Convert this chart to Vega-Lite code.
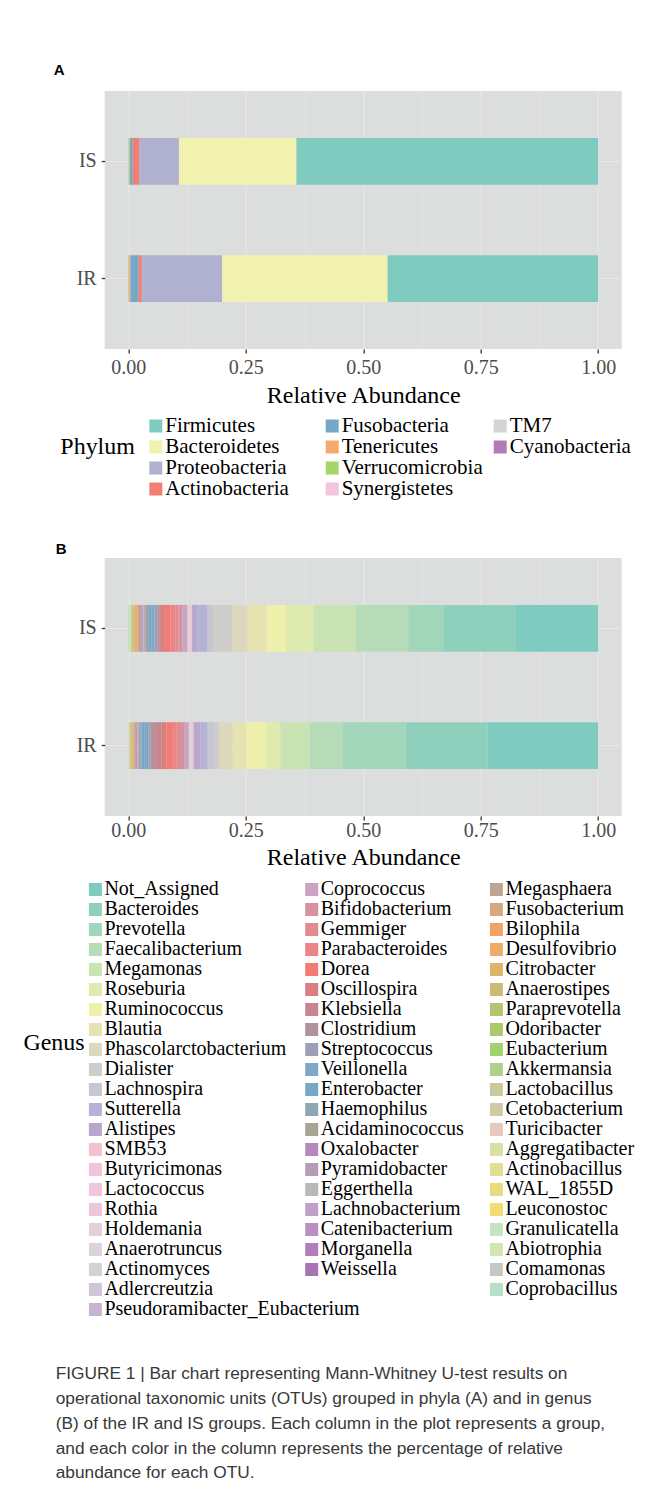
{
  "$schema": "https://vega.github.io/schema/vega-lite/v6.json",
  "background": "white",
  "padding": {"left": 22.7, "top": 62, "right": 5, "bottom": 20},
  "bounds": "flush",
  "spacing": 209,
  "title": {
    "text": [
      "FIGURE 1 | Bar chart representing Mann-Whitney U-test results on",
      "operational taxonomic units (OTUs) grouped in phyla (A) and in genus",
      "(B) of the IR and IS groups. Each column in the plot represents a group,",
      "and each color in the column represents the percentage of relative",
      "abundance for each OTU."
    ],
    "orient": "bottom", "anchor": "start", "frame": "group", "dx": -49, "offset": 46,
    "font": "Liberation Sans", "fontSize": 17.3, "fontWeight": "normal",
    "color": "#383838", "lineHeight": 24.75, "baseline": "top", "align": "left"
  },
  "datasets": {
    "phy": [
      {"group": "IS", "phylum": "Cyanobacteria", "value": 0.0005},
      {"group": "IS", "phylum": "TM7", "value": 0.0005},
      {"group": "IS", "phylum": "Synergistetes", "value": 0.0005},
      {"group": "IS", "phylum": "Verrucomicrobia", "value": 0.002},
      {"group": "IS", "phylum": "Tenericutes", "value": 0.0005},
      {"group": "IS", "phylum": "Fusobacteria", "value": 0.0056},
      {"group": "IS", "phylum": "Actinobacteria", "value": 0.0134},
      {"group": "IS", "phylum": "Proteobacteria", "value": 0.085},
      {"group": "IS", "phylum": "Bacteroidetes", "value": 0.25},
      {"group": "IS", "phylum": "Firmicutes", "value": 0.642},
      {"group": "IR", "phylum": "Cyanobacteria", "value": 0.0003},
      {"group": "IR", "phylum": "TM7", "value": 0.0003},
      {"group": "IR", "phylum": "Synergistetes", "value": 0.0003},
      {"group": "IR", "phylum": "Verrucomicrobia", "value": 0.0011},
      {"group": "IR", "phylum": "Tenericutes", "value": 0.003},
      {"group": "IR", "phylum": "Fusobacteria", "value": 0.0165},
      {"group": "IR", "phylum": "Actinobacteria", "value": 0.0075},
      {"group": "IR", "phylum": "Proteobacteria", "value": 0.171},
      {"group": "IR", "phylum": "Bacteroidetes", "value": 0.352},
      {"group": "IR", "phylum": "Firmicutes", "value": 0.448}
    ],
    "gen": [
      {"group": "IS", "genus": "Coprobacillus", "value": 0.0015},
      {"group": "IS", "genus": "Comamonas", "value": 0.0005},
      {"group": "IS", "genus": "Abiotrophia", "value": 0.0005},
      {"group": "IS", "genus": "Granulicatella", "value": 0.0005},
      {"group": "IS", "genus": "Leuconostoc", "value": 0.0005},
      {"group": "IS", "genus": "WAL_1855D", "value": 0.0005},
      {"group": "IS", "genus": "Actinobacillus", "value": 0.0005},
      {"group": "IS", "genus": "Aggregatibacter", "value": 0.0005},
      {"group": "IS", "genus": "Turicibacter", "value": 0.0005},
      {"group": "IS", "genus": "Cetobacterium", "value": 0.0005},
      {"group": "IS", "genus": "Lactobacillus", "value": 0.001},
      {"group": "IS", "genus": "Akkermansia", "value": 0.001},
      {"group": "IS", "genus": "Eubacterium", "value": 0.001},
      {"group": "IS", "genus": "Odoribacter", "value": 0.001},
      {"group": "IS", "genus": "Paraprevotella", "value": 0.001},
      {"group": "IS", "genus": "Anaerostipes", "value": 0.001},
      {"group": "IS", "genus": "Citrobacter", "value": 0.002},
      {"group": "IS", "genus": "Desulfovibrio", "value": 0.003},
      {"group": "IS", "genus": "Bilophila", "value": 0.003},
      {"group": "IS", "genus": "Fusobacterium", "value": 0.003},
      {"group": "IS", "genus": "Megasphaera", "value": 0.004},
      {"group": "IS", "genus": "Weissella", "value": 0.001},
      {"group": "IS", "genus": "Morganella", "value": 0.001},
      {"group": "IS", "genus": "Catenibacterium", "value": 0.002},
      {"group": "IS", "genus": "Lachnobacterium", "value": 0.001},
      {"group": "IS", "genus": "Eggerthella", "value": 0.002},
      {"group": "IS", "genus": "Pyramidobacter", "value": 0.001},
      {"group": "IS", "genus": "Oxalobacter", "value": 0.002},
      {"group": "IS", "genus": "Acidaminococcus", "value": 0.003},
      {"group": "IS", "genus": "Haemophilus", "value": 0.004},
      {"group": "IS", "genus": "Enterobacter", "value": 0.006},
      {"group": "IS", "genus": "Veillonella", "value": 0.006},
      {"group": "IS", "genus": "Streptococcus", "value": 0.006},
      {"group": "IS", "genus": "Clostridium", "value": 0.004},
      {"group": "IS", "genus": "Klebsiella", "value": 0.004},
      {"group": "IS", "genus": "Oscillospira", "value": 0.008},
      {"group": "IS", "genus": "Dorea", "value": 0.012},
      {"group": "IS", "genus": "Parabacteroides", "value": 0.01},
      {"group": "IS", "genus": "Gemmiger", "value": 0.007},
      {"group": "IS", "genus": "Bifidobacterium", "value": 0.008},
      {"group": "IS", "genus": "Coprococcus", "value": 0.01},
      {"group": "IS", "genus": "Pseudoramibacter_Eubacterium", "value": 0.001},
      {"group": "IS", "genus": "Adlercreutzia", "value": 0.001},
      {"group": "IS", "genus": "Actinomyces", "value": 0.001},
      {"group": "IS", "genus": "Anaerotruncus", "value": 0.001},
      {"group": "IS", "genus": "Holdemania", "value": 0.001},
      {"group": "IS", "genus": "Rothia", "value": 0.001},
      {"group": "IS", "genus": "Lactococcus", "value": 0.001},
      {"group": "IS", "genus": "Butyricimonas", "value": 0.002},
      {"group": "IS", "genus": "SMB53", "value": 0.002},
      {"group": "IS", "genus": "Alistipes", "value": 0.012},
      {"group": "IS", "genus": "Sutterella", "value": 0.021},
      {"group": "IS", "genus": "Lachnospira", "value": 0.013},
      {"group": "IS", "genus": "Dialister", "value": 0.04},
      {"group": "IS", "genus": "Phascolarctobacterium", "value": 0.032},
      {"group": "IS", "genus": "Blautia", "value": 0.041},
      {"group": "IS", "genus": "Ruminococcus", "value": 0.041},
      {"group": "IS", "genus": "Roseburia", "value": 0.058},
      {"group": "IS", "genus": "Megamonas", "value": 0.09},
      {"group": "IS", "genus": "Faecalibacterium", "value": 0.112},
      {"group": "IS", "genus": "Prevotella", "value": 0.076},
      {"group": "IS", "genus": "Bacteroides", "value": 0.153},
      {"group": "IS", "genus": "Not_Assigned", "value": 0.175},
      {"group": "IR", "genus": "Coprobacillus", "value": 0.0003},
      {"group": "IR", "genus": "Comamonas", "value": 0.0003},
      {"group": "IR", "genus": "Abiotrophia", "value": 0.0003},
      {"group": "IR", "genus": "Granulicatella", "value": 0.0003},
      {"group": "IR", "genus": "Leuconostoc", "value": 0.0003},
      {"group": "IR", "genus": "WAL_1855D", "value": 0.0003},
      {"group": "IR", "genus": "Actinobacillus", "value": 0.0003},
      {"group": "IR", "genus": "Aggregatibacter", "value": 0.0003},
      {"group": "IR", "genus": "Turicibacter", "value": 0.0003},
      {"group": "IR", "genus": "Cetobacterium", "value": 0.0003},
      {"group": "IR", "genus": "Lactobacillus", "value": 0.0003},
      {"group": "IR", "genus": "Akkermansia", "value": 0.0005},
      {"group": "IR", "genus": "Eubacterium", "value": 0.0005},
      {"group": "IR", "genus": "Odoribacter", "value": 0.0005},
      {"group": "IR", "genus": "Paraprevotella", "value": 0.0005},
      {"group": "IR", "genus": "Anaerostipes", "value": 0.001},
      {"group": "IR", "genus": "Citrobacter", "value": 0.001},
      {"group": "IR", "genus": "Desulfovibrio", "value": 0.002},
      {"group": "IR", "genus": "Bilophila", "value": 0.002},
      {"group": "IR", "genus": "Fusobacterium", "value": 0.002},
      {"group": "IR", "genus": "Megasphaera", "value": 0.003},
      {"group": "IR", "genus": "Weissella", "value": 0.001},
      {"group": "IR", "genus": "Morganella", "value": 0.001},
      {"group": "IR", "genus": "Catenibacterium", "value": 0.001},
      {"group": "IR", "genus": "Lachnobacterium", "value": 0.001},
      {"group": "IR", "genus": "Eggerthella", "value": 0.001},
      {"group": "IR", "genus": "Pyramidobacter", "value": 0.001},
      {"group": "IR", "genus": "Oxalobacter", "value": 0.001},
      {"group": "IR", "genus": "Acidaminococcus", "value": 0.002},
      {"group": "IR", "genus": "Haemophilus", "value": 0.003},
      {"group": "IR", "genus": "Enterobacter", "value": 0.007},
      {"group": "IR", "genus": "Veillonella", "value": 0.008},
      {"group": "IR", "genus": "Streptococcus", "value": 0.004},
      {"group": "IR", "genus": "Clostridium", "value": 0.01},
      {"group": "IR", "genus": "Klebsiella", "value": 0.014},
      {"group": "IR", "genus": "Oscillospira", "value": 0.01},
      {"group": "IR", "genus": "Dorea", "value": 0.012},
      {"group": "IR", "genus": "Parabacteroides", "value": 0.009},
      {"group": "IR", "genus": "Gemmiger", "value": 0.008},
      {"group": "IR", "genus": "Bifidobacterium", "value": 0.01},
      {"group": "IR", "genus": "Coprococcus", "value": 0.008},
      {"group": "IR", "genus": "Pseudoramibacter_Eubacterium", "value": 0.001},
      {"group": "IR", "genus": "Adlercreutzia", "value": 0.001},
      {"group": "IR", "genus": "Actinomyces", "value": 0.001},
      {"group": "IR", "genus": "Anaerotruncus", "value": 0.001},
      {"group": "IR", "genus": "Holdemania", "value": 0.001},
      {"group": "IR", "genus": "Rothia", "value": 0.001},
      {"group": "IR", "genus": "Lactococcus", "value": 0.001},
      {"group": "IR", "genus": "Butyricimonas", "value": 0.002},
      {"group": "IR", "genus": "SMB53", "value": 0.002},
      {"group": "IR", "genus": "Alistipes", "value": 0.014},
      {"group": "IR", "genus": "Sutterella", "value": 0.016},
      {"group": "IR", "genus": "Lachnospira", "value": 0.015},
      {"group": "IR", "genus": "Dialister", "value": 0.01},
      {"group": "IR", "genus": "Phascolarctobacterium", "value": 0.028},
      {"group": "IR", "genus": "Blautia", "value": 0.029},
      {"group": "IR", "genus": "Ruminococcus", "value": 0.043},
      {"group": "IR", "genus": "Roseburia", "value": 0.03},
      {"group": "IR", "genus": "Megamonas", "value": 0.062},
      {"group": "IR", "genus": "Faecalibacterium", "value": 0.071},
      {"group": "IR", "genus": "Prevotella", "value": 0.133},
      {"group": "IR", "genus": "Bacteroides", "value": 0.175},
      {"group": "IR", "genus": "Not_Assigned", "value": 0.235}
    ]
  },
  "vconcat": [
    {
      "width": 517,
      "height": 258,
      "title": {"text": "A", "anchor": "start", "frame": "group", "dx": -51, "offset": 1.5, "baseline": "alphabetic", "font": "Liberation Sans", "fontSize": 15, "fontWeight": "bold", "color": "#000000"},
      "data": {"name": "phy"},
      "transform": [{"stack": "value", "groupby": ["group"], "offset": "normalize", "as": ["x0", "x1"]}],
      "encoding": {
        "y": {
          "field": "group", "type": "nominal",
          "scale": {"domain": ["IS", "IR"], "paddingInner": 0.6, "paddingOuter": 0.4},
          "axis": {"title": null, "domain": false, "tickSize": 3.5, "tickColor": "#333333", "tickWidth": 1.3, "labelFont": "Liberation Serif", "labelFontSize": 20, "labelColor": "#4d4d4d", "labelPadding": 5, "grid": true, "gridColor": "#e8e8e8", "gridWidth": 1.1}
        },
        "x": {
          "field": "x0", "type": "quantitative",
          "scale": {"domain": [-0.05, 1.05], "nice": false, "zero": false},
          "axis": {
            "values": [0, 0.125, 0.25, 0.375, 0.5, 0.625, 0.75, 0.875, 1],
            "labelExpr": "(datum.value * 4) % 1 === 0 ? format(datum.value, '.2f') : ''",
            "tickOpacity": {"condition": {"test": "(datum.value * 4) % 1 === 0", "value": 1}, "value": 0},
            "gridWidth": {"condition": {"test": "(datum.value * 4) % 1 === 0", "value": 1.1}, "value": 0.55},
            "gridColor": "#e8e8e8", "grid": true, "domain": false,
            "tickSize": 4, "tickColor": "#333333", "tickWidth": 1.3,
            "labelFont": "Liberation Serif", "labelFontSize": 20, "labelColor": "#4d4d4d", "labelPadding": 4,
            "labelOverlap": false, "labelFlush": false,
            "title": "Relative Abundance", "titleFont": "Liberation Serif", "titleFontSize": 24, "titleFontWeight": "normal", "titleColor": "#000000", "titlePadding": 6
          }
        },
        "x2": {"field": "x1"}
      },
      "layer": [
        {
          "transform": [{"filter": {"field": "phylum", "oneOf": ["Firmicutes", "Bacteroidetes", "Proteobacteria", "Actinobacteria"]}}],
          "mark": {"type": "bar"},
          "encoding": {
            "color": {
              "field": "phylum", "type": "nominal",
              "scale": {"domain": ["Firmicutes", "Bacteroidetes", "Proteobacteria", "Actinobacteria"], "range": ["#80cbc0", "#f2f2b0", "#b0b0d0", "#f27f72"]},
              "legend": {"title": ["Phylum", ""], "orient": "none", "legendX": -44.4, "legendY": 324.5, "titleOrient": "left", "titleAnchor": "middle", "titleBaseline": "middle", "titleAlign": "left", "titleLineHeight": 21, "titlePadding": 10, "rowPadding": -1.5}
            }
          }
        },
        {
          "transform": [{"filter": {"field": "phylum", "oneOf": ["Fusobacteria", "Tenericutes", "Verrucomicrobia", "Synergistetes"]}}],
          "mark": {"type": "bar"},
          "encoding": {
            "color": {
              "field": "phylum", "type": "nominal",
              "scale": {"domain": ["Fusobacteria", "Tenericutes", "Verrucomicrobia", "Synergistetes"], "range": ["#74a8c8", "#f5a96a", "#a8d46c", "#f4c4dc"]},
              "legend": {"title": null, "orient": "none", "legendX": 217, "legendY": 324.5, "rowPadding": -1.5}
            }
          }
        },
        {
          "transform": [{"filter": {"field": "phylum", "oneOf": ["TM7", "Cyanobacteria"]}}],
          "mark": {"type": "bar"},
          "encoding": {
            "color": {
              "field": "phylum", "type": "nominal",
              "scale": {"domain": ["TM7", "Cyanobacteria"], "range": ["#d4d4d4", "#b07cb4"]},
              "legend": {"title": null, "orient": "none", "legendX": 385, "legendY": 324.5, "rowPadding": -1.5}
            }
          }
        }
      ],
      "resolve": {"scale": {"color": "independent"}}
    },
    {
      "width": 517,
      "height": 258,
      "title": {"text": "B", "anchor": "start", "frame": "group", "dx": -49, "offset": -11, "baseline": "alphabetic", "font": "Liberation Sans", "fontSize": 15, "fontWeight": "bold", "color": "#000000"},
      "data": {"name": "gen"},
      "transform": [{"stack": "value", "groupby": ["group"], "offset": "normalize", "as": ["x0", "x1"]}],
      "encoding": {
        "y": {
          "field": "group", "type": "nominal",
          "scale": {"domain": ["IS", "IR"], "paddingInner": 0.6, "paddingOuter": 0.4},
          "axis": {"title": null, "domain": false, "tickSize": 3.5, "tickColor": "#333333", "tickWidth": 1.3, "labelFont": "Liberation Serif", "labelFontSize": 20, "labelColor": "#4d4d4d", "labelPadding": 5, "grid": true, "gridColor": "#e8e8e8", "gridWidth": 1.1}
        },
        "x": {
          "field": "x0", "type": "quantitative",
          "scale": {"domain": [-0.05, 1.05], "nice": false, "zero": false},
          "axis": {
            "values": [0, 0.125, 0.25, 0.375, 0.5, 0.625, 0.75, 0.875, 1],
            "labelExpr": "(datum.value * 4) % 1 === 0 ? format(datum.value, '.2f') : ''",
            "tickOpacity": {"condition": {"test": "(datum.value * 4) % 1 === 0", "value": 1}, "value": 0},
            "gridWidth": {"condition": {"test": "(datum.value * 4) % 1 === 0", "value": 1.1}, "value": 0.55},
            "gridColor": "#e8e8e8", "grid": true, "domain": false,
            "tickSize": 4, "tickColor": "#333333", "tickWidth": 1.3,
            "labelFont": "Liberation Serif", "labelFontSize": 20, "labelColor": "#4d4d4d", "labelPadding": 1,
            "labelOverlap": false, "labelFlush": false,
            "title": "Relative Abundance", "titleFont": "Liberation Serif", "titleFontSize": 24, "titleFontWeight": "normal", "titleColor": "#000000", "titlePadding": 4.5
          }
        },
        "x2": {"field": "x1"}
      },
      "layer": [
        {
          "transform": [{"filter": {"field": "genus", "oneOf": ["Not_Assigned", "Bacteroides", "Prevotella", "Faecalibacterium", "Megamonas", "Roseburia", "Ruminococcus", "Blautia", "Phascolarctobacterium", "Dialister", "Lachnospira", "Sutterella", "Alistipes", "SMB53", "Butyricimonas", "Lactococcus", "Rothia", "Holdemania", "Anaerotruncus", "Actinomyces", "Adlercreutzia", "Pseudoramibacter_Eubacterium"]}}],
          "mark": {"type": "bar"},
          "encoding": {
            "color": {
              "field": "genus", "type": "nominal",
              "scale": {
                "domain": ["Not_Assigned", "Bacteroides", "Prevotella", "Faecalibacterium", "Megamonas", "Roseburia", "Ruminococcus", "Blautia", "Phascolarctobacterium", "Dialister", "Lachnospira", "Sutterella", "Alistipes", "SMB53", "Butyricimonas", "Lactococcus", "Rothia", "Holdemania", "Anaerotruncus", "Actinomyces", "Adlercreutzia", "Pseudoramibacter_Eubacterium"],
                "range": ["#7fcbbf", "#8fd0bd", "#a1d6ba", "#b6dcb7", "#cae3b3", "#dfeaae", "#eff0ac", "#e6e3b1", "#dbd8bd", "#cfcdc9", "#c7c6d3", "#b4b3d5", "#b8a6cb", "#f2c3cf", "#f3c2dd", "#eec7dc", "#e9c9d9", "#e2d0db", "#dad3da", "#d3d3d5", "#cfc6d8", "#c6b5cf"]
              },
              "legend": {"title": ["Genus", ""], "orient": "none", "legendX": -81.3, "legendY": 321.5, "titleOrient": "left", "titleAnchor": "middle", "titleBaseline": "middle", "titleAlign": "left", "titleLineHeight": 113, "titlePadding": 0, "rowPadding": -0.76, "labelFontSize": 20}
            }
          }
        },
        {
          "transform": [{"filter": {"field": "genus", "oneOf": ["Coprococcus", "Bifidobacterium", "Gemmiger", "Parabacteroides", "Dorea", "Oscillospira", "Klebsiella", "Clostridium", "Streptococcus", "Veillonella", "Enterobacter", "Haemophilus", "Acidaminococcus", "Oxalobacter", "Pyramidobacter", "Eggerthella", "Lachnobacterium", "Catenibacterium", "Morganella", "Weissella"]}}],
          "mark": {"type": "bar"},
          "encoding": {
            "color": {
              "field": "genus", "type": "nominal",
              "scale": {
                "domain": ["Coprococcus", "Bifidobacterium", "Gemmiger", "Parabacteroides", "Dorea", "Oscillospira", "Klebsiella", "Clostridium", "Streptococcus", "Veillonella", "Enterobacter", "Haemophilus", "Acidaminococcus", "Oxalobacter", "Pyramidobacter", "Eggerthella", "Lachnobacterium", "Catenibacterium", "Morganella", "Weissella"],
                "range": ["#c9a3bf", "#d7929f", "#e28c8f", "#ed8586", "#f27c73", "#da7f80", "#c8868f", "#b1929f", "#9b9fb8", "#7fa7c7", "#78a9c4", "#8fa7b1", "#a8a597", "#b38ab9", "#b59db5", "#bab7bb", "#c1a0c8", "#b890c2", "#b07fbb", "#a874b2"]
              },
              "legend": {"title": null, "orient": "none", "legendX": 197, "legendY": 321.5, "rowPadding": -0.76, "labelFontSize": 20}
            }
          }
        },
        {
          "transform": [{"filter": {"field": "genus", "oneOf": ["Megasphaera", "Fusobacterium", "Bilophila", "Desulfovibrio", "Citrobacter", "Anaerostipes", "Paraprevotella", "Odoribacter", "Eubacterium", "Akkermansia", "Lactobacillus", "Cetobacterium", "Turicibacter", "Aggregatibacter", "Actinobacillus", "WAL_1855D", "Leuconostoc", "Granulicatella", "Abiotrophia", "Comamonas", "Coprobacillus"]}}],
          "mark": {"type": "bar"},
          "encoding": {
            "color": {
              "field": "genus", "type": "nominal",
              "scale": {
                "domain": ["Megasphaera", "Fusobacterium", "Bilophila", "Desulfovibrio", "Citrobacter", "Anaerostipes", "Paraprevotella", "Odoribacter", "Eubacterium", "Akkermansia", "Lactobacillus", "Cetobacterium", "Turicibacter", "Aggregatibacter", "Actinobacillus", "WAL_1855D", "Leuconostoc", "Granulicatella", "Abiotrophia", "Comamonas", "Coprobacillus"],
                "range": ["#bba68f", "#d7a77d", "#f2a266", "#eeab69", "#dcb46a", "#cbbb73", "#b9c26f", "#a9c96b", "#a2d26f", "#afd189", "#c6ca9c", "#d4c9a6", "#e7c8bd", "#d8e1a2", "#e2df92", "#e8dc82", "#f2dc75", "#c5e5c2", "#d3e5b2", "#c1c9c1", "#b7dec6"]
              },
              "legend": {"title": null, "orient": "none", "legendX": 381.7, "legendY": 321.5, "rowPadding": -0.76, "labelFontSize": 20}
            }
          }
        }
      ],
      "resolve": {"scale": {"color": "independent"}}
    }
  ],
  "config": {
    "font": "Liberation Serif",
    "view": {"fill": "#dcdddd", "stroke": null},
    "axis": {"labelFont": "Liberation Serif", "titleFont": "Liberation Serif"},
    "legend": {
      "symbolType": "square", "symbolSize": 169, "symbolStrokeWidth": 0, "symbolOpacity": 1,
      "labelFont": "Liberation Serif", "labelFontSize": 21, "labelColor": "#000000", "labelOffset": -1, "labelLimit": 400,
      "titleFont": "Liberation Serif", "titleFontSize": 24, "titleFontWeight": "normal", "titleColor": "#000000", "titleLimit": 400,
      "padding": 0, "columns": 1, "direction": "vertical"
    }
  }
}
